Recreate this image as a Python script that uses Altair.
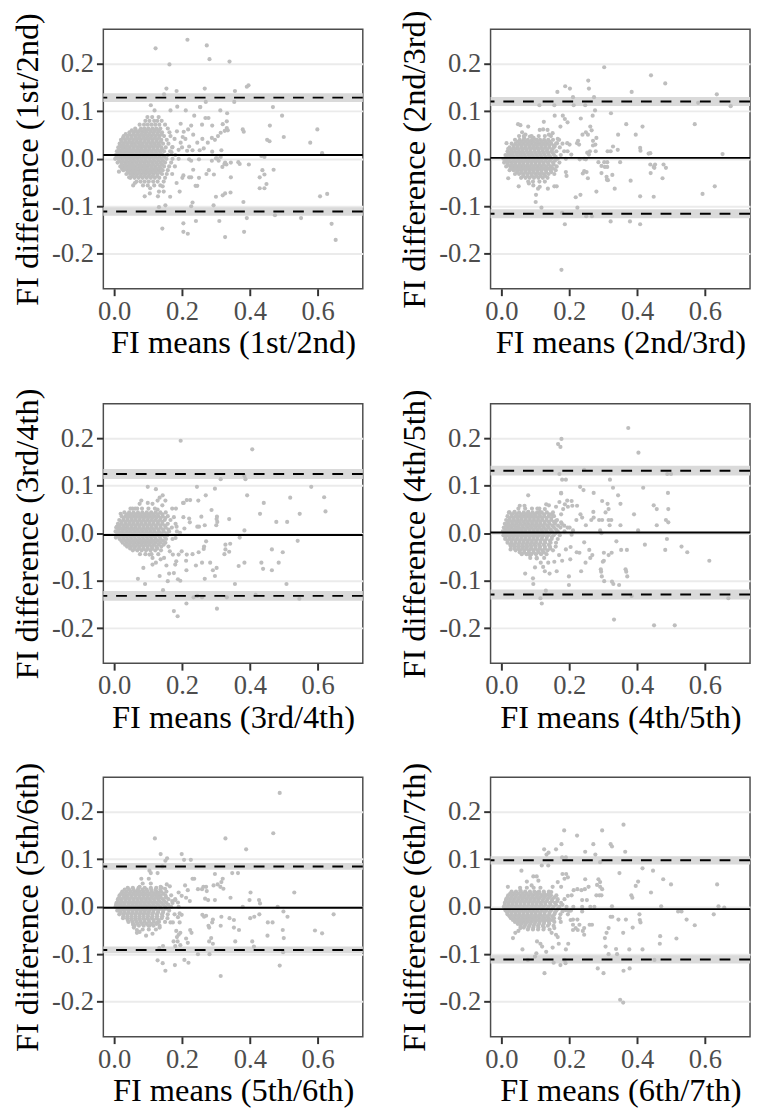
import altair as alt
import pandas as pd

FONT = "Liberation Serif"
PANEL_W = 264
PANEL_H = 264

LABELS = ["1st/2nd", "2nd/3rd", "3rd/4th", "4th/5th", "5th/6th", "6th/7th"]
MEAN_DIFF = [0.008, 0.002, -0.0035, 0.0015, -0.002, -0.005]
UPPER_LOA = [0.129, 0.121, 0.125, 0.132, 0.085, 0.098]
LOWER_LOA = [-0.111, -0.116, -0.132, -0.129, -0.091, -0.111]
LOA_CI_HALF = [0.009, 0.0095, 0.0104, 0.0104, 0.007, 0.0087]

X_TICKS = [0.0, 0.2, 0.4, 0.6]
Y_TICKS = [-0.2, -0.1, 0.0, 0.1, 0.2]
X_DOMAIN = [-0.032, 0.733]
Y_DOMAIN = [-0.274, 0.273]

# ---- panel 1 (1st/2nd) ----
P1_OUT = [
    (0.122, 0.233), (0.216, 0.251), (0.273, 0.239), (0.281, 0.210), (0.340, 0.205), (0.163, 0.199),
    (0.154, 0.148), (0.184, 0.143), (0.267, 0.148), (0.391, 0.152), (0.396, 0.155), (0.356, 0.143),
    (0.354, 0.120), (0.147, 0.136), (0.186, 0.110), (0.108, 0.113), (0.119, 0.102), (0.166, 0.102),
    (0.211, 0.102), (0.254, 0.109), (0.270, 0.120), (0.313, 0.102), (0.333, 0.096), (0.468, 0.109),
    (0.495, 0.091), (0.599, 0.062), (0.578, 0.034), (0.500, 0.046), (0.458, 0.037), (0.451, 0.040),
    (0.459, 0.070), (0.379, 0.062), (0.382, 0.057), (0.613, 0.012), (0.434, 0.006), (0.443, 0.004),
    (0.470, -0.023), (0.437, -0.024), (0.443, -0.033), (0.429, -0.039), (0.449, -0.053), (0.429, -0.062),
    (0.443, -0.062), (0.607, -0.079), (0.628, -0.074), (0.551, -0.125), (0.474, -0.119), (0.641, -0.137),
    (0.653, -0.171), (0.391, -0.125), (0.383, -0.154), (0.381, -0.091), (0.327, -0.165), (0.310, -0.131),
    (0.241, -0.131), (0.204, -0.136), (0.204, -0.154), (0.217, -0.158), (0.142, -0.147), (0.320, -0.077),
    (0.327, -0.073), (0.343, -0.071), (0.300, -0.080), (0.293, -0.098), (0.397, -0.012), (0.370, -0.011),
    (0.366, -0.007), (0.344, -0.039), (0.331, -0.012), (0.319, -0.017), (0.325, -0.011), (0.288, -0.004),
    (0.303, 0.001), (0.308, -0.004), (0.272, -0.032), (0.279, -0.024), (0.294, -0.033), (0.250, -0.040),
    (0.227, -0.039), (0.221, -0.039), (0.204, -0.035), (0.201, -0.040), (0.233, -0.023), (0.250, -0.001),
    (0.221, -0.001), (0.227, -0.004), (0.245, -0.057), (0.240, -0.057), (0.193, -0.069), (0.231, -0.092),
    (0.227, -0.100), (0.184, -0.051), (0.165, -0.080), (0.151, -0.098), (0.132, -0.102), (0.146, -0.069),
    (0.132, -0.069), (0.143, -0.058), (0.129, -0.079), (0.090, -0.079), (0.105, -0.073), (0.106, -0.062),
    (0.056, -0.056), (0.061, -0.051), (0.014, -0.027), (0.023, -0.021), (0.044, -0.039), (0.278, 0.086),
    (0.269, 0.086), (0.289, 0.070), (0.259, 0.072), (0.236, 0.091), (0.253, 0.109), (0.332, 0.079),
    (0.332, 0.065), (0.335, 0.060), (0.320, 0.073), (0.326, 0.059), (0.314, 0.055), (0.306, 0.048),
    (0.297, 0.040), (0.288, 0.044), (0.276, 0.034), (0.260, 0.042), (0.264, 0.022), (0.245, 0.034),
    (0.252, 0.018), (0.231, 0.018), (0.221, 0.026), (0.215, 0.017), (0.233, 0.051), (0.218, 0.062),
    (0.227, 0.070), (0.205, 0.057), (0.202, 0.046), (0.196, 0.074), (0.185, 0.058), (0.196, 0.034),
    (0.200, 0.024), (0.210, 0.042), (0.190, 0.019), (0.178, 0.042), (0.172, 0.025), (0.169, 0.014),
    (0.289, 0.015), (0.300, 0.001), (0.316, 0.018), (0.314, 0.004), (0.344, -0.008), (0.327, -0.008),
]
P1_CORE = [
    (0.088, [0.098, 0.112, 0.131]),
    (0.080, [0.092, 0.104, 0.118, 0.127, 0.140]),
    (0.072, [0.075, 0.088, 0.099, 0.110, 0.121, 0.133, 0.150]),
    (0.064, [0.062, 0.079, 0.090, 0.101, 0.113, 0.124, 0.136, 0.158]),
    (0.056, [0.045, 0.058, 0.070, 0.083, 0.094, 0.106, 0.117, 0.129, 0.141, 0.163]),
    (0.048, [0.028, 0.040, 0.052, 0.064, 0.076, 0.087, 0.099, 0.110, 0.122, 0.134, 0.147, 0.166]),
    (0.040, [0.020, 0.032, 0.044, 0.056, 0.067, 0.079, 0.091, 0.102, 0.114, 0.126, 0.139, 0.155]),
    (0.032, [0.016, 0.027, 0.038, 0.050, 0.061, 0.073, 0.084, 0.096, 0.108, 0.119, 0.131, 0.144, 0.160]),
    (0.024, [0.012, 0.023, 0.034, 0.045, 0.057, 0.068, 0.079, 0.091, 0.103, 0.115, 0.127, 0.139, 0.152, 0.171]),
    (0.016, [0.008, 0.019, 0.030, 0.041, 0.052, 0.064, 0.075, 0.087, 0.098, 0.110, 0.122, 0.134, 0.147, 0.165]),
    (0.008, [0.005, 0.016, 0.027, 0.038, 0.049, 0.060, 0.071, 0.083, 0.094, 0.106, 0.118, 0.130, 0.143, 0.158, 0.180]),
    (0.000, [0.003, 0.013, 0.024, 0.035, 0.046, 0.057, 0.068, 0.080, 0.091, 0.103, 0.115, 0.127, 0.140, 0.154, 0.172, 0.190]),
    (-0.008, [0.010, 0.021, 0.032, 0.043, 0.054, 0.065, 0.077, 0.088, 0.100, 0.112, 0.124, 0.137, 0.150, 0.168]),
    (-0.016, [0.018, 0.029, 0.040, 0.051, 0.062, 0.074, 0.085, 0.097, 0.109, 0.121, 0.134, 0.147, 0.162, 0.179]),
    (-0.024, [0.027, 0.038, 0.049, 0.060, 0.071, 0.083, 0.094, 0.106, 0.118, 0.130, 0.143, 0.158]),
    (-0.032, [0.036, 0.047, 0.058, 0.069, 0.081, 0.092, 0.104, 0.116, 0.128, 0.141, 0.155, 0.171]),
    (-0.040, [0.048, 0.060, 0.072, 0.084, 0.096, 0.108, 0.120, 0.133, 0.150]),
    (-0.048, [0.066, 0.078, 0.090, 0.102, 0.115, 0.128, 0.146]),
    (-0.056, [0.085, 0.099, 0.118, 0.136]),
]
P1_FILL = [
    (0.060, [0.052, 0.064, 0.076, 0.088, 0.097, 0.108, 0.120, 0.132]),
    (0.052, [0.034, 0.046, 0.058, 0.070, 0.081, 0.093, 0.104, 0.116, 0.128, 0.140]),
    (0.044, [0.026, 0.038, 0.050, 0.062, 0.073, 0.085, 0.096, 0.108, 0.120, 0.132]),
    (0.036, [0.022, 0.033, 0.044, 0.055, 0.067, 0.078, 0.090, 0.102, 0.113, 0.125, 0.137]),
    (0.028, [0.018, 0.029, 0.040, 0.051, 0.062, 0.074, 0.085, 0.097, 0.109, 0.121, 0.133]),
    (0.020, [0.014, 0.025, 0.036, 0.047, 0.058, 0.070, 0.081, 0.093, 0.104, 0.116, 0.128, 0.141]),
    (0.012, [0.011, 0.022, 0.033, 0.044, 0.055, 0.066, 0.078, 0.089, 0.100, 0.112, 0.124, 0.137]),
    (0.004, [0.008, 0.019, 0.030, 0.041, 0.052, 0.063, 0.074, 0.086, 0.097, 0.109, 0.121, 0.134, 0.148]),
    (-0.004, [0.015, 0.026, 0.037, 0.048, 0.059, 0.071, 0.082, 0.094, 0.106, 0.118, 0.131, 0.144]),
    (-0.012, [0.023, 0.034, 0.045, 0.056, 0.068, 0.079, 0.091, 0.103, 0.115, 0.128, 0.141]),
    (-0.020, [0.033, 0.044, 0.055, 0.066, 0.077, 0.089, 0.100, 0.112, 0.124, 0.137]),
    (-0.028, [0.042, 0.053, 0.064, 0.075, 0.087, 0.098, 0.110, 0.122, 0.135]),
    (-0.036, [0.054, 0.066, 0.078, 0.090, 0.102, 0.114, 0.127]),
]

# ---- panel 2 (2nd/3rd) ----
P2_OUT = [
    (0.303, 0.193), (0.441, 0.176), (0.483, 0.159), (0.256, 0.165), (0.258, 0.148), (0.188, 0.153),
    (0.202, 0.148), (0.165, 0.141), (0.384, 0.141), (0.273, 0.130), (0.211, 0.130), (0.213, 0.113),
    (0.247, 0.113), (0.112, 0.113), (0.156, 0.113), (0.635, 0.136), (0.676, 0.111), (0.580, 0.118),
    (0.276, 0.102), (0.323, 0.096), (0.181, 0.091), (0.187, 0.084), (0.195, 0.077), (0.157, 0.091),
    (0.234, 0.085), (0.269, 0.091), (0.368, 0.073), (0.416, 0.068), (0.570, 0.073), (0.174, 0.068),
    (0.262, 0.068), (0.266, 0.060), (0.249, 0.056), (0.255, 0.051), (0.239, 0.051), (0.344, 0.051),
    (0.396, 0.051), (0.226, 0.038), (0.229, 0.030), (0.223, 0.033), (0.270, 0.038), (0.277, 0.030),
    (0.270, 0.028), (0.280, 0.044), (0.329, 0.026), (0.343, 0.019), (0.313, 0.016), (0.322, 0.016),
    (0.409, 0.023), (0.410, 0.017), (0.434, 0.011), (0.439, 0.012), (0.652, 0.010), (0.261, 0.016),
    (0.258, 0.009), (0.253, 0.013), (0.278, 0.016), (0.244, 0.000), (0.231, -0.001), (0.249, -0.001),
    (0.286, -0.007), (0.303, -0.007), (0.312, -0.007), (0.295, -0.015), (0.305, -0.017), (0.312, -0.017),
    (0.350, -0.007), (0.439, -0.012), (0.449, -0.017), (0.453, -0.012), (0.451, -0.019), (0.478, -0.012),
    (0.485, -0.019), (0.251, -0.028), (0.244, -0.026), (0.240, -0.031), (0.295, -0.030), (0.310, -0.038),
    (0.314, -0.045), (0.327, -0.034), (0.311, -0.044), (0.440, -0.030), (0.190, -0.028), (0.192, -0.036),
    (0.255, -0.041), (0.381, -0.046), (0.475, -0.041), (0.334, -0.063), (0.280, -0.069), (0.233, -0.076),
    (0.219, -0.081), (0.409, -0.079), (0.449, -0.080), (0.629, -0.058), (0.593, -0.074), (0.102, -0.076),
    (0.101, -0.091), (0.118, -0.103), (0.137, -0.063), (0.156, -0.058), (0.163, -0.058), (0.113, -0.059),
    (0.108, -0.063), (0.094, -0.056), (0.081, -0.052), (0.051, -0.058), (0.020, -0.041), (0.179, -0.114),
    (0.187, -0.138), (0.224, -0.103), (0.250, -0.121), (0.267, -0.121), (0.322, -0.132), (0.379, -0.132),
    (0.409, -0.138), (0.177, -0.234), (0.049, 0.073), (0.056, 0.071), (0.079, 0.068), (0.061, 0.056),
    (0.071, 0.051), (0.084, 0.047), (0.067, 0.044), (0.095, 0.044), (0.104, 0.040), (0.113, 0.061),
    (0.123, 0.062), (0.136, 0.061), (0.125, 0.078), (0.140, 0.051), (0.151, 0.054), (0.166, 0.042),
    (0.164, 0.033), (0.157, 0.026), (0.194, 0.033), (0.195, 0.016), (0.201, 0.030), (0.206, 0.009),
    (0.015, 0.033), (0.020, 0.021),
]
P2_CORE = [
    (0.048, [0.052, 0.066, 0.089, 0.110, 0.128, 0.146]),
    (0.040, [0.040, 0.054, 0.066, 0.078, 0.090, 0.102, 0.114, 0.126, 0.138, 0.152, 0.170]),
    (0.032, [0.030, 0.042, 0.054, 0.065, 0.077, 0.088, 0.100, 0.111, 0.123, 0.135, 0.147, 0.161, 0.180]),
    (0.024, [0.024, 0.036, 0.047, 0.059, 0.070, 0.082, 0.093, 0.105, 0.117, 0.129, 0.141, 0.154, 0.172]),
    (0.016, [0.018, 0.029, 0.040, 0.052, 0.063, 0.075, 0.086, 0.098, 0.110, 0.122, 0.134, 0.147, 0.162, 0.185]),
    (0.008, [0.012, 0.023, 0.034, 0.046, 0.057, 0.068, 0.080, 0.091, 0.103, 0.115, 0.127, 0.140, 0.155, 0.175]),
    (0.000, [0.006, 0.017, 0.028, 0.040, 0.051, 0.062, 0.074, 0.085, 0.097, 0.109, 0.121, 0.134, 0.148, 0.166, 0.190]),
    (-0.008, [0.008, 0.019, 0.031, 0.042, 0.054, 0.065, 0.077, 0.088, 0.100, 0.112, 0.124, 0.137, 0.152, 0.171]),
    (-0.016, [0.014, 0.026, 0.037, 0.049, 0.060, 0.072, 0.083, 0.095, 0.107, 0.119, 0.132, 0.146, 0.163]),
    (-0.024, [0.024, 0.036, 0.048, 0.059, 0.071, 0.083, 0.094, 0.106, 0.118, 0.131, 0.145, 0.160]),
    (-0.032, [0.040, 0.052, 0.064, 0.076, 0.088, 0.100, 0.112, 0.125, 0.139, 0.156]),
    (-0.040, [0.058, 0.071, 0.083, 0.096, 0.109, 0.122, 0.136]),
    (-0.048, [0.079, 0.093, 0.112, 0.128]),
]
P2_FILL = [
    (0.036, [0.048, 0.060, 0.072, 0.084, 0.095, 0.107, 0.119, 0.131, 0.143]),
    (0.028, [0.036, 0.048, 0.059, 0.071, 0.082, 0.094, 0.105, 0.117, 0.129, 0.141, 0.155]),
    (0.020, [0.028, 0.040, 0.051, 0.063, 0.074, 0.086, 0.098, 0.110, 0.122, 0.135, 0.150]),
    (0.012, [0.021, 0.032, 0.044, 0.055, 0.066, 0.078, 0.089, 0.101, 0.113, 0.125, 0.138, 0.152]),
    (0.004, [0.015, 0.026, 0.037, 0.049, 0.060, 0.071, 0.083, 0.094, 0.106, 0.118, 0.131, 0.144, 0.160]),
    (-0.004, [0.013, 0.024, 0.036, 0.047, 0.058, 0.070, 0.081, 0.093, 0.105, 0.117, 0.130, 0.143, 0.158]),
    (-0.012, [0.019, 0.031, 0.042, 0.054, 0.065, 0.077, 0.089, 0.101, 0.113, 0.125, 0.139, 0.154]),
    (-0.020, [0.030, 0.042, 0.053, 0.065, 0.077, 0.088, 0.100, 0.112, 0.125, 0.138, 0.152]),
    (-0.028, [0.046, 0.058, 0.070, 0.082, 0.094, 0.106, 0.118, 0.132, 0.147]),
    (-0.036, [0.064, 0.077, 0.090, 0.103, 0.116, 0.129]),
]

# ---- panel 3 (3rd/4th) ----
P3_OUT = [
    (0.196, 0.195), (0.407, 0.177), (0.384, 0.121), (0.387, 0.114), (0.314, 0.114), (0.244, 0.098),
    (0.099, 0.098), (0.123, 0.093), (0.392, 0.080), (0.581, 0.098), (0.519, 0.075), (0.619, 0.076),
    (0.441, 0.064), (0.623, 0.046), (0.547, 0.041), (0.430, 0.041), (0.510, 0.024), (0.478, 0.024),
    (0.339, 0.030), (0.287, 0.049), (0.297, 0.094), (0.248, 0.069), (0.224, 0.070), (0.214, 0.070),
    (0.205, 0.064), (0.270, 0.080), (0.257, 0.035), (0.267, 0.017), (0.250, 0.014), (0.245, 0.014),
    (0.303, 0.035), (0.301, 0.017), (0.304, 0.024), (0.302, 0.030), (0.384, 0.006), (0.370, -0.009),
    (0.541, -0.016), (0.465, -0.034), (0.497, -0.040), (0.485, -0.062), (0.434, -0.062), (0.439, -0.075),
    (0.465, -0.078), (0.384, -0.062), (0.367, -0.069), (0.508, -0.107), (0.546, -0.138), (0.417, -0.130),
    (0.356, -0.107), (0.328, -0.024), (0.328, -0.034), (0.325, -0.044), (0.339, -0.039), (0.342, -0.022),
    (0.283, -0.062), (0.291, -0.078), (0.297, -0.090), (0.302, -0.073), (0.267, -0.096), (0.259, -0.062),
    (0.241, -0.068), (0.213, -0.078), (0.212, -0.058), (0.214, -0.045), (0.231, -0.044), (0.249, -0.040),
    (0.264, -0.033), (0.271, -0.017), (0.265, -0.028), (0.234, -0.135), (0.245, -0.132), (0.259, -0.135),
    (0.213, -0.148), (0.303, -0.159), (0.176, -0.164), (0.187, -0.175), (0.332, -0.135), (0.144, -0.120),
    (0.158, -0.101), (0.162, -0.085), (0.176, -0.084), (0.188, -0.097), (0.195, -0.100), (0.134, -0.090),
    (0.070, -0.096), (0.091, -0.107), (0.086, -0.073), (0.180, -0.066), (0.183, -0.059), (0.173, -0.045),
    (0.154, -0.068), (0.147, -0.052), (0.164, -0.038), (0.190, -0.045), (0.199, -0.038), (0.113, -0.066),
    (0.123, -0.062), (0.137, -0.055), (0.113, -0.052), (0.104, -0.045), (0.171, 0.052), (0.182, 0.052),
    (0.203, 0.064), (0.176, 0.034), (0.204, 0.034), (0.221, 0.031), (0.223, 0.023), (0.184, 0.014),
    (0.207, 0.010), (0.194, 0.001), (0.181, -0.010), (0.143, 0.080), (0.134, 0.075), (0.151, 0.069),
    (0.128, 0.069), (0.142, 0.059), (0.128, 0.050), (0.113, 0.062), (0.099, 0.064), (0.080, 0.069),
    (0.075, 0.062), (0.068, 0.052), (0.054, 0.052), (0.019, 0.041), (0.008, 0.014), (0.005, -0.009),
]
P3_CORE = [
    (0.052, [0.048, 0.062, 0.082, 0.101, 0.120]),
    (0.044, [0.030, 0.044, 0.057, 0.070, 0.083, 0.096, 0.109, 0.122, 0.136, 0.152]),
    (0.036, [0.022, 0.034, 0.046, 0.058, 0.070, 0.082, 0.094, 0.106, 0.118, 0.130, 0.143, 0.158]),
    (0.028, [0.015, 0.027, 0.039, 0.051, 0.062, 0.074, 0.086, 0.098, 0.110, 0.122, 0.135, 0.149, 0.166]),
    (0.020, [0.011, 0.022, 0.034, 0.045, 0.057, 0.069, 0.080, 0.092, 0.104, 0.116, 0.129, 0.142, 0.158, 0.181]),
    (0.012, [0.006, 0.017, 0.029, 0.040, 0.052, 0.063, 0.075, 0.087, 0.099, 0.111, 0.124, 0.137, 0.152, 0.170]),
    (0.004, [0.004, 0.014, 0.025, 0.037, 0.048, 0.060, 0.071, 0.083, 0.095, 0.107, 0.119, 0.132, 0.146, 0.162, 0.185]),
    (-0.004, [0.009, 0.020, 0.031, 0.043, 0.054, 0.066, 0.078, 0.090, 0.102, 0.114, 0.127, 0.141, 0.157]),
    (-0.012, [0.016, 0.027, 0.039, 0.050, 0.062, 0.074, 0.086, 0.098, 0.110, 0.123, 0.137, 0.153, 0.172]),
    (-0.020, [0.025, 0.037, 0.049, 0.061, 0.073, 0.085, 0.097, 0.109, 0.122, 0.136, 0.151]),
    (-0.028, [0.038, 0.050, 0.062, 0.074, 0.086, 0.098, 0.111, 0.124, 0.139, 0.160]),
    (-0.036, [0.055, 0.068, 0.081, 0.094, 0.107, 0.121, 0.138]),
    (-0.044, [0.076, 0.092, 0.110, 0.130]),
]
P3_FILL = [
    (0.040, [0.038, 0.050, 0.063, 0.076, 0.089, 0.102, 0.115, 0.128, 0.142]),
    (0.032, [0.028, 0.040, 0.052, 0.064, 0.076, 0.088, 0.100, 0.112, 0.124, 0.137, 0.151]),
    (0.024, [0.021, 0.033, 0.045, 0.056, 0.068, 0.080, 0.092, 0.104, 0.116, 0.129, 0.142]),
    (0.016, [0.016, 0.028, 0.039, 0.051, 0.063, 0.074, 0.086, 0.098, 0.110, 0.123, 0.136, 0.150]),
    (0.008, [0.012, 0.023, 0.034, 0.046, 0.057, 0.069, 0.081, 0.093, 0.105, 0.117, 0.130, 0.144, 0.160]),
    (0.000, [0.010, 0.020, 0.031, 0.042, 0.054, 0.065, 0.077, 0.089, 0.101, 0.113, 0.126, 0.139, 0.154]),
    (-0.008, [0.014, 0.026, 0.037, 0.049, 0.060, 0.072, 0.084, 0.096, 0.108, 0.120, 0.134, 0.149]),
    (-0.016, [0.021, 0.033, 0.044, 0.056, 0.068, 0.080, 0.092, 0.104, 0.116, 0.129, 0.144]),
    (-0.024, [0.032, 0.044, 0.056, 0.068, 0.080, 0.092, 0.104, 0.117, 0.131, 0.146]),
    (-0.032, [0.047, 0.060, 0.073, 0.086, 0.099, 0.112, 0.127]),
]

# ---- panel 4 (4th/5th) ----
P4_OUT = [
    (0.374, 0.222), (0.177, 0.199), (0.167, 0.188), (0.174, 0.182), (0.404, 0.170), (0.244, 0.134),
    (0.179, 0.113), (0.190, 0.113), (0.320, 0.113), (0.489, 0.125), (0.500, 0.125), (0.171, 0.125),
    (0.232, 0.098), (0.242, 0.091), (0.329, 0.096), (0.418, 0.096), (0.272, 0.085), (0.344, 0.080),
    (0.176, 0.085), (0.079, 0.080), (0.491, 0.085), (0.351, 0.062), (0.297, 0.068), (0.313, 0.062),
    (0.449, 0.059), (0.458, 0.051), (0.492, 0.051), (0.391, 0.040), (0.485, 0.028), (0.492, 0.023),
    (0.458, 0.017), (0.351, 0.017), (0.316, 0.051), (0.307, 0.044), (0.316, 0.028), (0.297, 0.028),
    (0.288, 0.028), (0.324, 0.028), (0.319, 0.017), (0.271, 0.045), (0.272, 0.033), (0.265, 0.028),
    (0.249, 0.017), (0.233, 0.040), (0.238, 0.033), (0.221, 0.028), (0.209, 0.058), (0.223, 0.058),
    (0.196, 0.056), (0.187, 0.061), (0.182, 0.051), (0.176, 0.040), (0.207, 0.068), (0.194, 0.069),
    (0.171, 0.066), (0.176, 0.084), (0.403, 0.006), (0.291, 0.006), (0.295, 0.000), (0.488, -0.012),
    (0.483, -0.035), (0.423, -0.024), (0.531, -0.028), (0.548, -0.040), (0.613, -0.058), (0.339, -0.017),
    (0.353, -0.035), (0.370, -0.035), (0.325, -0.041), (0.316, -0.046), (0.302, -0.041), (0.302, -0.058),
    (0.299, -0.060), (0.366, -0.076), (0.368, -0.081), (0.371, -0.091), (0.293, -0.076), (0.294, -0.081),
    (0.296, -0.091), (0.303, -0.101), (0.326, -0.102), (0.330, -0.107), (0.347, -0.109), (0.384, -0.132),
    (0.669, -0.137), (0.332, -0.182), (0.450, -0.194), (0.511, -0.194), (0.115, -0.137), (0.131, -0.121),
    (0.119, -0.148), (0.093, -0.095), (0.094, -0.107), (0.070, -0.085), (0.128, -0.080), (0.142, -0.085),
    (0.163, -0.080), (0.199, -0.091), (0.199, -0.109), (0.235, -0.080), (0.248, -0.062), (0.262, -0.052),
    (0.268, -0.046), (0.259, -0.035), (0.244, -0.019), (0.230, -0.041), (0.222, -0.040), (0.204, -0.029),
    (0.190, -0.034), (0.203, -0.055), (0.179, -0.058), (0.156, -0.060), (0.170, -0.046), (0.116, -0.062),
    (0.123, -0.071), (0.099, -0.072), (0.104, -0.053), (0.084, -0.046), (0.138, -0.062), (0.027, -0.034),
    (0.029, -0.023), (0.022, 0.044), (0.039, 0.045), (0.054, 0.058), (0.068, 0.058), (0.079, 0.045),
    (0.106, 0.052), (0.113, 0.045), (0.128, 0.051), (0.132, 0.061), (0.140, 0.059), (0.149, 0.040),
    (0.161, 0.056), (0.161, 0.026), (0.176, 0.023), (0.185, 0.016), (0.201, 0.012), (0.211, 0.006),
    (0.207, -0.003),
]
P4_CORE = [
    (0.052, [0.050, 0.070, 0.090, 0.112]),
    (0.044, [0.024, 0.038, 0.052, 0.066, 0.079, 0.092, 0.105, 0.119, 0.134, 0.152]),
    (0.036, [0.018, 0.030, 0.042, 0.054, 0.066, 0.078, 0.090, 0.102, 0.114, 0.126, 0.139, 0.155]),
    (0.028, [0.014, 0.025, 0.037, 0.049, 0.060, 0.072, 0.084, 0.096, 0.108, 0.120, 0.133, 0.147, 0.164]),
    (0.020, [0.010, 0.021, 0.033, 0.044, 0.056, 0.068, 0.079, 0.091, 0.103, 0.115, 0.128, 0.142, 0.158, 0.178]),
    (0.012, [0.007, 0.018, 0.029, 0.041, 0.052, 0.064, 0.076, 0.088, 0.100, 0.112, 0.125, 0.139, 0.155, 0.174, 0.195]),
    (0.004, [0.004, 0.015, 0.026, 0.038, 0.049, 0.061, 0.072, 0.084, 0.096, 0.108, 0.121, 0.134, 0.149, 0.166, 0.186]),
    (-0.004, [0.006, 0.017, 0.028, 0.040, 0.051, 0.063, 0.075, 0.087, 0.099, 0.111, 0.124, 0.138, 0.154, 0.172]),
    (-0.012, [0.011, 0.023, 0.034, 0.046, 0.058, 0.070, 0.082, 0.094, 0.106, 0.119, 0.133, 0.148, 0.166]),
    (-0.020, [0.018, 0.030, 0.042, 0.054, 0.066, 0.078, 0.090, 0.102, 0.115, 0.129, 0.145, 0.161]),
    (-0.028, [0.028, 0.040, 0.052, 0.064, 0.076, 0.088, 0.101, 0.114, 0.128, 0.143, 0.160]),
    (-0.036, [0.042, 0.055, 0.068, 0.081, 0.094, 0.107, 0.121, 0.136, 0.152]),
    (-0.044, [0.060, 0.074, 0.088, 0.102, 0.117, 0.133]),
    (-0.052, [0.085, 0.104, 0.126]),
]
P4_FILL = [
    (0.040, [0.031, 0.045, 0.059, 0.072, 0.085, 0.098, 0.112, 0.126, 0.142]),
    (0.032, [0.024, 0.036, 0.048, 0.060, 0.072, 0.084, 0.096, 0.108, 0.120, 0.133, 0.147]),
    (0.024, [0.019, 0.031, 0.043, 0.054, 0.066, 0.078, 0.090, 0.102, 0.114, 0.127, 0.140, 0.155]),
    (0.016, [0.015, 0.027, 0.038, 0.050, 0.062, 0.074, 0.085, 0.097, 0.109, 0.122, 0.135, 0.150, 0.167]),
    (0.008, [0.012, 0.023, 0.035, 0.046, 0.058, 0.070, 0.082, 0.094, 0.106, 0.118, 0.131, 0.145, 0.161]),
    (0.000, [0.010, 0.021, 0.033, 0.044, 0.056, 0.068, 0.080, 0.092, 0.104, 0.116, 0.129, 0.143, 0.160]),
    (-0.008, [0.012, 0.024, 0.035, 0.047, 0.059, 0.071, 0.083, 0.095, 0.107, 0.120, 0.134, 0.149]),
    (-0.016, [0.018, 0.030, 0.042, 0.054, 0.066, 0.078, 0.090, 0.102, 0.115, 0.128, 0.143]),
    (-0.024, [0.026, 0.038, 0.050, 0.062, 0.074, 0.086, 0.098, 0.111, 0.125, 0.140]),
    (-0.032, [0.038, 0.050, 0.062, 0.074, 0.087, 0.100, 0.113, 0.128, 0.144]),
    (-0.040, [0.054, 0.067, 0.081, 0.095, 0.110, 0.125]),
]

# ---- panel 5 (5th/6th) ----
P5_OUT = [
    (0.488, 0.240), (0.469, 0.155), (0.328, 0.144), (0.120, 0.144), (0.389, 0.121), (0.137, 0.111),
    (0.199, 0.111), (0.151, 0.097), (0.156, 0.102), (0.206, 0.099), (0.226, 0.099), (0.142, 0.085),
    (0.104, 0.076), (0.128, 0.071), (0.108, 0.071), (0.348, 0.071), (0.365, 0.071), (0.297, 0.069),
    (0.080, 0.059), (0.102, 0.059), (0.108, 0.049), (0.084, 0.049), (0.075, 0.042), (0.067, 0.031),
    (0.231, 0.059), (0.236, 0.059), (0.320, 0.059), (0.316, 0.052), (0.305, 0.047), (0.293, 0.045),
    (0.313, 0.042), (0.322, 0.038), (0.263, 0.042), (0.271, 0.042), (0.259, 0.037), (0.247, 0.037),
    (0.273, 0.033), (0.268, 0.017), (0.277, 0.014), (0.402, 0.030), (0.399, 0.014), (0.427, 0.014),
    (0.430, 0.007), (0.343, 0.019), (0.297, 0.014), (0.531, 0.030), (0.209, 0.045), (0.217, 0.035),
    (0.190, 0.030), (0.199, 0.023), (0.212, 0.019), (0.223, 0.012), (0.180, 0.014), (0.188, 0.009),
    (0.171, 0.012), (0.164, 0.043), (0.155, 0.047), (0.137, 0.042), (0.150, 0.038), (0.128, 0.030),
    (0.132, 0.023), (0.113, 0.024), (0.482, 0.000), (0.379, 0.000), (0.499, -0.010), (0.511, -0.021),
    (0.453, -0.033), (0.467, -0.033), (0.647, -0.016), (0.592, -0.050), (0.613, -0.056), (0.428, -0.016),
    (0.413, -0.021), (0.401, -0.024), (0.340, -0.024), (0.353, -0.028), (0.316, -0.021), (0.314, -0.040),
    (0.353, -0.044), (0.368, -0.049), (0.260, -0.017), (0.271, -0.019), (0.265, -0.021), (0.291, -0.027),
    (0.289, -0.033), (0.278, -0.040), (0.280, -0.044), (0.286, -0.066), (0.280, -0.073), (0.291, -0.078),
    (0.452, -0.061), (0.497, -0.049), (0.500, -0.066), (0.407, -0.073), (0.412, -0.084), (0.357, -0.073),
    (0.498, -0.096), (0.488, -0.124), (0.314, -0.146), (0.247, -0.100), (0.281, -0.100), (0.207, -0.112),
    (0.219, -0.118), (0.179, -0.123), (0.128, -0.113), (0.143, -0.119), (0.151, -0.135), (0.144, -0.083),
    (0.133, -0.087), (0.187, -0.073), (0.185, -0.064), (0.190, -0.059), (0.195, -0.055), (0.183, -0.051),
    (0.175, -0.073), (0.180, -0.083), (0.195, -0.081), (0.212, -0.067), (0.217, -0.076), (0.228, -0.055),
    (0.224, -0.049), (0.193, -0.033), (0.188, -0.022), (0.166, -0.033), (0.173, -0.033), (0.199, -0.017),
    (0.193, -0.014), (0.134, -0.044), (0.113, -0.057), (0.094, -0.061), (0.075, -0.053), (0.067, -0.049),
    (0.058, -0.044), (0.067, -0.055), (0.056, -0.038), (0.128, -0.033), (0.104, -0.040), (0.015, 0.003),
    (0.006, 0.005), (0.022, 0.028), (0.032, 0.023),
]
P5_CORE = [
    (0.040, [0.040, 0.055, 0.072, 0.090, 0.108, 0.124, 0.140]),
    (0.032, [0.024, 0.036, 0.049, 0.061, 0.074, 0.086, 0.098, 0.111, 0.124, 0.138, 0.154]),
    (0.024, [0.016, 0.028, 0.040, 0.052, 0.064, 0.076, 0.088, 0.100, 0.112, 0.124, 0.137, 0.151, 0.168]),
    (0.016, [0.011, 0.022, 0.034, 0.045, 0.057, 0.069, 0.081, 0.093, 0.105, 0.117, 0.130, 0.144, 0.160, 0.180]),
    (0.008, [0.007, 0.018, 0.029, 0.041, 0.052, 0.064, 0.076, 0.088, 0.100, 0.112, 0.125, 0.139, 0.154, 0.172]),
    (0.000, [0.004, 0.015, 0.026, 0.038, 0.049, 0.061, 0.073, 0.085, 0.097, 0.109, 0.122, 0.136, 0.151, 0.168, 0.190]),
    (-0.008, [0.009, 0.020, 0.031, 0.043, 0.055, 0.067, 0.079, 0.091, 0.103, 0.116, 0.130, 0.145, 0.162]),
    (-0.016, [0.015, 0.027, 0.039, 0.051, 0.063, 0.075, 0.087, 0.099, 0.112, 0.126, 0.141, 0.158, 0.178]),
    (-0.024, [0.026, 0.038, 0.050, 0.062, 0.074, 0.086, 0.098, 0.111, 0.125, 0.140, 0.157]),
    (-0.032, [0.042, 0.054, 0.066, 0.078, 0.090, 0.103, 0.117, 0.132, 0.150]),
    (-0.040, [0.060, 0.073, 0.087, 0.101, 0.116, 0.134]),
    (-0.048, [0.084, 0.102, 0.123]),
]
P5_FILL = [
    (0.036, [0.031, 0.044, 0.057, 0.070, 0.083, 0.096, 0.109, 0.122, 0.136]),
    (0.028, [0.021, 0.033, 0.045, 0.057, 0.069, 0.081, 0.093, 0.105, 0.118, 0.131, 0.145]),
    (0.020, [0.015, 0.027, 0.038, 0.050, 0.062, 0.074, 0.086, 0.098, 0.110, 0.123, 0.137, 0.153]),
    (0.012, [0.011, 0.022, 0.034, 0.046, 0.058, 0.070, 0.082, 0.094, 0.106, 0.119, 0.133, 0.148]),
    (0.004, [0.009, 0.020, 0.031, 0.043, 0.055, 0.067, 0.079, 0.091, 0.103, 0.116, 0.130, 0.145, 0.160]),
    (-0.004, [0.012, 0.023, 0.035, 0.047, 0.059, 0.071, 0.083, 0.095, 0.108, 0.122, 0.137, 0.153]),
    (-0.012, [0.018, 0.030, 0.042, 0.054, 0.066, 0.078, 0.090, 0.102, 0.115, 0.129, 0.144]),
    (-0.020, [0.027, 0.039, 0.051, 0.063, 0.075, 0.087, 0.100, 0.113, 0.127, 0.142]),
    (-0.028, [0.040, 0.052, 0.064, 0.076, 0.089, 0.102, 0.116, 0.131]),
    (-0.036, [0.056, 0.069, 0.082, 0.096, 0.110, 0.125]),
]

# ---- panel 6 (6th/7th) ----
P6_OUT = [
    (0.360, 0.173), (0.297, 0.161), (0.185, 0.161), (0.223, 0.150), (0.177, 0.132), (0.126, 0.121),
    (0.139, 0.114), (0.133, 0.110), (0.271, 0.132), (0.322, 0.132), (0.326, 0.127), (0.161, 0.121),
    (0.247, 0.116), (0.277, 0.110), (0.365, 0.116), (0.179, 0.104), (0.190, 0.104), (0.291, 0.094),
    (0.138, 0.087), (0.119, 0.087), (0.416, 0.081), (0.447, 0.076), (0.059, 0.076), (0.348, 0.071),
    (0.477, 0.058), (0.500, 0.047), (0.403, 0.053), (0.396, 0.044), (0.636, 0.047), (0.441, 0.030),
    (0.383, 0.024), (0.386, 0.019), (0.191, 0.069), (0.196, 0.062), (0.186, 0.059), (0.180, 0.069),
    (0.247, 0.058), (0.213, 0.035), (0.224, 0.037), (0.236, 0.035), (0.246, 0.037), (0.257, 0.042),
    (0.286, 0.058), (0.291, 0.052), (0.282, 0.046), (0.291, 0.042), (0.297, 0.037), (0.295, 0.024),
    (0.280, 0.024), (0.289, 0.024), (0.207, 0.024), (0.196, 0.023), (0.238, 0.014), (0.252, 0.014),
    (0.238, 0.000), (0.262, 0.000), (0.274, 0.000), (0.326, 0.001), (0.176, 0.042), (0.166, 0.052),
    (0.151, 0.042), (0.147, 0.031), (0.142, 0.023), (0.128, 0.024), (0.106, 0.030), (0.094, 0.064),
    (0.104, 0.064), (0.075, 0.053), (0.109, 0.055), (0.089, 0.045), (0.056, 0.035), (0.019, 0.042),
    (0.471, 0.001), (0.521, -0.010), (0.531, -0.010), (0.546, -0.027), (0.570, -0.039), (0.626, -0.016),
    (0.640, 0.001), (0.657, -0.002), (0.407, -0.016), (0.408, -0.028), (0.410, -0.033), (0.322, -0.021),
    (0.327, -0.021), (0.345, -0.027), (0.367, -0.027), (0.316, -0.045), (0.310, -0.055), (0.305, -0.066),
    (0.307, -0.084), (0.338, -0.089), (0.341, -0.100), (0.316, -0.100), (0.359, -0.055), (0.387, -0.044),
    (0.360, -0.135), (0.378, -0.130), (0.284, -0.130), (0.301, -0.140), (0.468, -0.062), (0.467, -0.078),
    (0.516, -0.067), (0.416, -0.090), (0.377, -0.090), (0.451, -0.112), (0.350, -0.196), (0.359, -0.202),
    (0.127, -0.140), (0.174, -0.123), (0.154, -0.118), (0.189, -0.119), (0.186, -0.112), (0.103, -0.098),
    (0.099, -0.105), (0.078, -0.112), (0.062, -0.090), (0.132, -0.095), (0.151, -0.086), (0.169, -0.078),
    (0.197, -0.078), (0.190, -0.090), (0.115, -0.078), (0.120, -0.084), (0.105, -0.073), (0.034, -0.066),
    (0.041, -0.055), (0.050, -0.051), (0.056, -0.045), (0.211, -0.038), (0.219, -0.045), (0.230, -0.038),
    (0.244, -0.045), (0.240, -0.051), (0.244, -0.059), (0.225, -0.049), (0.211, -0.049), (0.260, -0.038),
    (0.267, -0.038), (0.161, -0.059), (0.166, -0.064), (0.148, -0.055), (0.156, -0.045), (0.211, -0.027),
    (0.204, -0.028), (0.224, -0.027), (0.238, -0.010), (0.180, -0.010), (0.190, -0.007), (0.199, -0.009),
]
P6_CORE = [
    (0.040, [0.055, 0.075, 0.095, 0.115]),
    (0.032, [0.030, 0.043, 0.057, 0.070, 0.084, 0.097, 0.111, 0.125, 0.140]),
    (0.024, [0.020, 0.032, 0.044, 0.057, 0.069, 0.081, 0.093, 0.106, 0.119, 0.132, 0.146, 0.162]),
    (0.016, [0.014, 0.026, 0.038, 0.050, 0.062, 0.074, 0.086, 0.098, 0.110, 0.123, 0.136, 0.150, 0.166, 0.186]),
    (0.008, [0.010, 0.021, 0.033, 0.044, 0.056, 0.068, 0.080, 0.092, 0.104, 0.116, 0.129, 0.143, 0.158, 0.176]),
    (0.000, [0.007, 0.018, 0.029, 0.041, 0.052, 0.064, 0.076, 0.088, 0.100, 0.112, 0.125, 0.139, 0.154, 0.171, 0.192, 0.212]),
    (-0.008, [0.012, 0.023, 0.035, 0.046, 0.058, 0.070, 0.082, 0.094, 0.106, 0.119, 0.132, 0.146, 0.162, 0.181, 0.205]),
    (-0.016, [0.018, 0.030, 0.042, 0.053, 0.065, 0.077, 0.089, 0.101, 0.114, 0.127, 0.141, 0.156, 0.174, 0.196]),
    (-0.024, [0.028, 0.040, 0.052, 0.064, 0.076, 0.088, 0.100, 0.113, 0.126, 0.140, 0.155, 0.172]),
    (-0.032, [0.040, 0.052, 0.064, 0.076, 0.088, 0.100, 0.113, 0.126, 0.140, 0.156, 0.175]),
    (-0.040, [0.056, 0.069, 0.082, 0.095, 0.108, 0.122, 0.137, 0.154]),
    (-0.048, [0.078, 0.093, 0.108, 0.124, 0.142]),
]
P6_FILL = [
    (0.028, [0.026, 0.038, 0.050, 0.063, 0.075, 0.087, 0.100, 0.113, 0.126, 0.139]),
    (0.020, [0.018, 0.030, 0.042, 0.054, 0.066, 0.078, 0.090, 0.102, 0.114, 0.127, 0.141, 0.156]),
    (0.012, [0.013, 0.025, 0.036, 0.048, 0.060, 0.072, 0.084, 0.096, 0.108, 0.121, 0.134, 0.149, 0.165]),
    (0.004, [0.010, 0.021, 0.032, 0.044, 0.056, 0.068, 0.080, 0.092, 0.104, 0.117, 0.130, 0.145, 0.161, 0.180]),
    (-0.004, [0.013, 0.024, 0.036, 0.048, 0.060, 0.072, 0.084, 0.096, 0.108, 0.121, 0.135, 0.150, 0.167]),
    (-0.012, [0.017, 0.029, 0.041, 0.053, 0.065, 0.077, 0.089, 0.101, 0.114, 0.127, 0.142, 0.158]),
    (-0.020, [0.024, 0.036, 0.048, 0.060, 0.072, 0.084, 0.096, 0.108, 0.121, 0.135, 0.150]),
    (-0.028, [0.034, 0.046, 0.058, 0.070, 0.082, 0.094, 0.107, 0.120, 0.134, 0.149]),
    (-0.036, [0.048, 0.060, 0.072, 0.085, 0.098, 0.111, 0.125, 0.141]),
    (-0.044, [0.066, 0.080, 0.094, 0.109, 0.125]),
]

OUTS = [P1_OUT, P2_OUT, P3_OUT, P4_OUT, P5_OUT, P6_OUT]
CORES = [P1_CORE, P2_CORE, P3_CORE, P4_CORE, P5_CORE, P6_CORE]
FILLS = [P1_FILL, P2_FILL, P3_FILL, P4_FILL, P5_FILL, P6_FILL]

POINT_COLOR = "#BEBEBE"
BAND_COLOR = "#DADADA"

LABEL_EXPR = "datum.value < 0 ? '-' + format(-datum.value, '.1f') : format(datum.value, '.1f')"


def panel(i):
    lab = LABELS[i]
    pts = list(OUTS[i])
    pts += [(x, y) for y, xs in CORES[i] for x in xs]
    pts += [(x, y) for y, xs in FILLS[i] for x in xs]
    df = pd.DataFrame(pts, columns=["m", "d"])

    x_enc = alt.X(
        "m:Q",
        scale=alt.Scale(domain=X_DOMAIN, nice=False, zero=False),
        axis=alt.Axis(values=X_TICKS, title=f"FI means ({lab})", grid=False, labelExpr=LABEL_EXPR),
    )
    y_enc = alt.Y(
        "d:Q",
        scale=alt.Scale(domain=Y_DOMAIN, nice=False, zero=False),
        axis=alt.Axis(values=Y_TICKS, title=f"FI difference ({lab})", grid=True, labelExpr=LABEL_EXPR),
    )

    band_df = pd.DataFrame({
        "d": [UPPER_LOA[i] - LOA_CI_HALF[i], LOWER_LOA[i] - LOA_CI_HALF[i]],
        "d2": [UPPER_LOA[i] + LOA_CI_HALF[i], LOWER_LOA[i] + LOA_CI_HALF[i]],
    })
    bands = alt.Chart(band_df).mark_rect(color=BAND_COLOR).encode(
        y=y_enc, y2="d2:Q", x=alt.value(0), x2=alt.value(PANEL_W)
    )
    points = alt.Chart(df).mark_circle(size=18, color=POINT_COLOR, opacity=1).encode(x=x_enc, y=y_enc)
    mean_df = pd.DataFrame({"d": [MEAN_DIFF[i]]})
    mean_rule = alt.Chart(mean_df).mark_rule(color="black", strokeWidth=2).encode(y=y_enc)
    loa_df = pd.DataFrame({"d": [UPPER_LOA[i], LOWER_LOA[i]]})
    loa_rule = alt.Chart(loa_df).mark_rule(color="black", strokeWidth=2, strokeDash=[11, 9]).encode(y=y_enc)

    return alt.layer(bands, points, mean_rule, loa_rule).properties(width=PANEL_W, height=PANEL_H)


rows = []
for r in range(3):
    rows.append(alt.hconcat(panel(2 * r), panel(2 * r + 1), spacing=34))

chart = alt.vconcat(*rows, spacing=27).properties(
    padding={"left": 3, "top": -9, "right": 0, "bottom": 0},
    background="white",
).configure_view(
    stroke="#4D4D4D", strokeWidth=1.5
).configure_axis(
    domain=False,
    tickColor="#333333",
    tickWidth=2,
    tickSize=7,
    labelColor="#4D4D4D",
    labelFont=FONT,
    labelFontSize=27,
    labelPadding=3,
    titleFont=FONT,
    titleFontSize=33,
    titleFontWeight="normal",
    titleColor="black",
    gridColor="#EBEBEB",
    gridWidth=2,
).configure_axisX(
    labelPadding=3, titlePadding=3
).configure_axisY(
    titlePadding=7
)

chart.save("out.html", embed_options={"renderer": "svg", "actions": False})
